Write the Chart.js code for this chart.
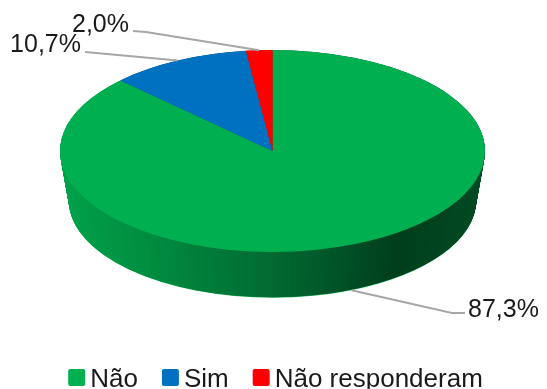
<!DOCTYPE html>
<html><head><meta charset="utf-8">
<script src="https://cdn.jsdelivr.net/npm/chart.js@4/dist/chart.umd.min.js"></script>
<style>
html,body{margin:0;padding:0;background:#fff;}
#wrap{position:relative;width:547px;height:389px;}
</style>
</head><body>
<div id="wrap"><canvas id="c"></canvas></div>
<script>
// ---- data ----
const categories = ['Não', 'Sim', 'Não responderam'];
const values = [87.3, 10.7, 2.0];
const percentLabels = values.map(v => v.toFixed(1).replace('.', ',') + '%');

// ---- styles / layout ----
const sliceColors = ['#00B050', '#0070C0', '#FF0000'];
const sideDark = ['#008A3E', '#00548F', '#B30000'];
const FONT = '"Liberation Sans", Arial, sans-serif';
const PIE = {cx: 272.5, cy: 151, rx: 212.5, ry: 101, depth: 50, shrink: 0.042, steps: 100};
// label placement: text anchor + elbow points (from slice toward text)
const LABEL_LAYOUT = [
  {align: 'left',  tx: 468, ty: 317, pts: [[452, 313], [465, 313]], side: true},
  {align: 'right', tx: 81,  ty: 52,  pts: [[85, 52]], side: false},
  {align: 'right', tx: 129, ty: 32,  pts: [[146, 32], [133, 31]], side: false}
];

function drawArcWith(arc, ctx, fill) {
  const p = Object.create(arc);
  p.options = Object.assign({}, arc.options, {backgroundColor: fill, borderWidth: 0});
  arc.draw.call(p, ctx);
}

function applyPieTransform(ctx, arc0, k) {
  const t = k / PIE.steps;
  const f = 1 - PIE.shrink * t;
  const r0 = arc0.outerRadius;
  ctx.translate(PIE.cx, PIE.cy + PIE.depth * t);
  ctx.scale(PIE.rx / r0 * f, PIE.ry / r0 * f);
  ctx.translate(-arc0.x, -arc0.y);
}

function rimPoint(arc, angle, k) {
  const t = k / PIE.steps;
  const f = 1 - PIE.shrink * t;
  return [PIE.cx + Math.cos(angle) * PIE.rx * f,
          PIE.cy + PIE.depth * t + Math.sin(angle) * PIE.ry * f];
}

const pie3d = {
  id: 'pie3d',
  beforeDatasetsDraw(chart) {
    const ctx = chart.ctx;
    const arcs = chart.getDatasetMeta(0).data;
    const a0 = arcs[0];
    const r0 = a0.outerRadius;
    const grad = ctx.createLinearGradient(a0.x - r0, 0, a0.x + r0, 0);
    grad.addColorStop(0.00, '#00A14A');
    grad.addColorStop(0.20, '#008D40');
    grad.addColorStop(0.50, '#006A31');
    grad.addColorStop(0.70, '#004C24');
    grad.addColorStop(0.80, '#003E1C');
    grad.addColorStop(1.00, '#004A22');
    for (let k = PIE.steps; k >= 0; k--) {
      ctx.save();
      applyPieTransform(ctx, a0, k);
      arcs.forEach((arc, i) => {
        let fill = i === 0 ? grad : sideDark[i];
        if (k === PIE.steps) fill = i === 0 ? '#19B45A' : sliceColors[i];
        drawArcWith(arc, ctx, fill);
      });
      ctx.restore();
    }
    ctx.save();
    applyPieTransform(ctx, a0, 0);
  },
  afterDatasetsDraw(chart) {
    chart.ctx.restore();
  },
  afterDraw(chart) {
    const ctx = chart.ctx;
    const arcs = chart.getDatasetMeta(0).data;
    // data labels with leader lines
    arcs.forEach((arc, i) => {
      const L = LABEL_LAYOUT[i];
      const mid = (arc.startAngle + arc.endAngle) / 2;
      const anchor = rimPoint(arc, mid, L.side ? PIE.steps : 0);
      ctx.save();
      ctx.strokeStyle = '#A6A6A6';
      ctx.lineWidth = 2;
      ctx.beginPath();
      ctx.moveTo(anchor[0], anchor[1]);
      L.pts.forEach(p => ctx.lineTo(p[0], p[1]));
      ctx.stroke();
      ctx.fillStyle = '#1A1A1A';
      ctx.font = '25px ' + FONT;
      ctx.textAlign = L.align;
      ctx.textBaseline = 'alphabetic';
      ctx.fillText(percentLabels[i], L.tx, L.ty);
      ctx.restore();
    });
    // legend
    ctx.save();
    ctx.font = '26px ' + FONT;
    const box = 17, gapText = 5, gapItem = 24;
    const widths = categories.map(c => ctx.measureText(c).width);
    const total = widths.reduce((s, w) => s + box + gapText + w, 0) + gapItem * (categories.length - 1);
    let x = (chart.width - total) / 2 + 2;
    const base = 387;
    categories.forEach((c, i) => {
      ctx.fillStyle = sliceColors[i];
      ctx.beginPath();
      ctx.roundRect(x, base - 18, box, box, 2);
      ctx.fill();
      ctx.fillStyle = '#1A1A1A';
      ctx.textAlign = 'left';
      ctx.textBaseline = 'alphabetic';
      ctx.fillText(c, x + box + gapText, base);
      x += box + gapText + widths[i] + gapItem;
    });
    ctx.restore();
  }
};

new Chart(document.getElementById('c'), {
  type: 'pie',
  data: {
    labels: categories,
    datasets: [{
      data: values,
      backgroundColor: sliceColors,
      borderWidth: 0,
      hoverOffset: 0
    }]
  },
  options: {
    responsive: true,
    maintainAspectRatio: false,
    animation: false,
    events: [],
    rotation: 0,
    layout: {padding: 0},
    plugins: {legend: {display: false}, tooltip: {enabled: false}}
  },
  plugins: [pie3d]
});
</script>
</body></html>
